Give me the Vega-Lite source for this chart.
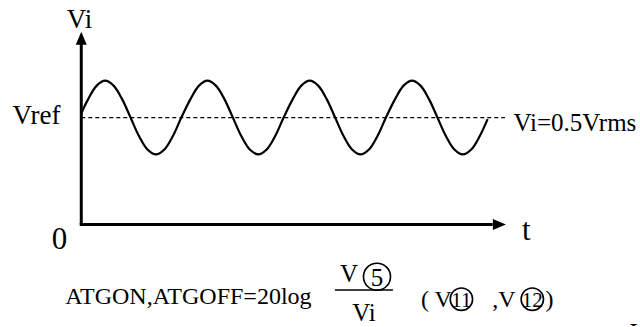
{
  "$schema": "https://vega.github.io/schema/vega-lite/v6.json",
  "width": 640,
  "height": 327,
  "padding": 0,
  "autosize": {"type": "fit", "contains": "padding"},
  "background": "white",
  "config": {"view": {"stroke": null}},
  "datasets": {
    "wave": [
      {"t": 0.0, "v": 1.04},
      {"t": 0.068, "v": 1.1725}, {"t": 0.152, "v": 1.2988}, {"t": 0.235, "v": 1.345}, {"t": 0.318, "v": 1.2988},
      {"t": 0.402, "v": 1.1725}, {"t": 0.485, "v": 1.0}, {"t": 0.568, "v": 0.8275}, {"t": 0.652, "v": 0.7012},
      {"t": 0.735, "v": 0.655}, {"t": 0.818, "v": 0.7012}, {"t": 0.902, "v": 0.8275}, {"t": 0.985, "v": 1.0},
      {"t": 1.075, "v": 1.1725}, {"t": 1.159, "v": 1.2988}, {"t": 1.242, "v": 1.345}, {"t": 1.325, "v": 1.2988},
      {"t": 1.409, "v": 1.1725}, {"t": 1.492, "v": 1.0}, {"t": 1.575, "v": 0.8275}, {"t": 1.659, "v": 0.7012},
      {"t": 1.742, "v": 0.655}, {"t": 1.825, "v": 0.7012}, {"t": 1.909, "v": 0.8275}, {"t": 1.992, "v": 1.0},
      {"t": 2.082, "v": 1.1725}, {"t": 2.166, "v": 1.2988}, {"t": 2.249, "v": 1.345}, {"t": 2.332, "v": 1.2988},
      {"t": 2.416, "v": 1.1725}, {"t": 2.499, "v": 1.0}, {"t": 2.582, "v": 0.8275}, {"t": 2.666, "v": 0.7012},
      {"t": 2.749, "v": 0.655}, {"t": 2.832, "v": 0.7012}, {"t": 2.916, "v": 0.8275}, {"t": 2.999, "v": 1.0},
      {"t": 3.089, "v": 1.1725}, {"t": 3.173, "v": 1.2988}, {"t": 3.256, "v": 1.345}, {"t": 3.339, "v": 1.2988},
      {"t": 3.423, "v": 1.1725}, {"t": 3.506, "v": 1.0}, {"t": 3.589, "v": 0.8275}, {"t": 3.673, "v": 0.7012},
      {"t": 3.756, "v": 0.655}, {"t": 3.839, "v": 0.7012}, {"t": 3.923, "v": 0.8275}, {"t": 4.0, "v": 0.985}
    ],
    "refline": [{"t": 0.0, "t2": 4.17, "v": 1.0}],
    "axes": [
      {"t": 0.0, "t2": 0.0, "v": 0.0, "v2": 1.70},
      {"t": -0.015, "t2": 4.05, "v": 0.0, "v2": 0.0}
    ],
    "arrows": [
      {"t": 0.0, "v": 1.743, "dir": "up"},
      {"t": 4.116, "v": 0.0, "dir": "right"}
    ],
    "fracbar": [{"t": 2.497, "t2": 3.068, "v": -0.613}],
    "rings": [
      {"t": 2.911, "v": -0.489, "ring": "big"},
      {"t": 3.742, "v": -0.699, "ring": "small"},
      {"t": 4.44, "v": -0.699, "ring": "small"}
    ],
    "texts": [
      {"label": "Vi", "t": -0.0175, "v": 1.839, "role": "vlabel"},
      {"label": "Vref", "t": -0.441, "v": 0.94, "role": "vlabel"},
      {"label": "0", "t": -0.214, "v": -0.232, "role": "origin"},
      {"label": "t", "t": 4.382, "v": -0.148, "role": "origin"},
      {"label": "Vi=0.5Vrms", "t": 4.859, "v": 0.873, "role": "note"},
      {"label": "ATGON,ATGOFF=20log", "t": 1.055, "v": -0.745, "role": "formula"},
      {"label": "V", "t": 2.635, "v": -0.54, "role": "frac"},
      {"label": "Vi", "t": 2.783, "v": -0.904, "role": "frac"},
      {"label": "5", "t": 2.911, "v": -0.58, "role": "frac"},
      {"label": "( V", "t": 3.496, "v": -0.773, "role": "formula"},
      {"label": ",V", "t": 4.16, "v": -0.773, "role": "formula"},
      {"label": ")", "t": 4.61, "v": -0.773, "role": "formula"},
      {"label": "11", "t": 3.742, "v": -0.77, "role": "circled"},
      {"label": "12", "t": 4.44, "v": -0.77, "role": "circled"}
    ],
    "cut": [{"label": "V", "t": 5.401, "v": -1.09}]
  },
  "encoding": {
    "x": {"field": "t", "type": "quantitative", "scale": {"domain": [-0.8, 5.5], "nice": false, "zero": false}, "axis": null},
    "y": {"field": "v", "type": "quantitative", "scale": {"domain": [-0.95, 2.1], "nice": false, "zero": false}, "axis": null}
  },
  "layer": [
    {
      "data": {"name": "refline"},
      "mark": {"type": "rule", "color": "black", "strokeWidth": 1.2, "strokeDash": [4, 3]},
      "encoding": {"x2": {"field": "t2"}}
    },
    {
      "data": {"name": "wave"},
      "mark": {"type": "line", "color": "black", "strokeWidth": 2.2, "interpolate": "catmull-rom"},
      "encoding": {}
    },
    {
      "data": {"name": "axes"},
      "mark": {"type": "rule", "color": "black", "strokeWidth": 3},
      "encoding": {"x2": {"field": "t2"}, "y2": {"field": "v2"}}
    },
    {
      "data": {"name": "arrows"},
      "mark": {"type": "point", "filled": true, "color": "black", "opacity": 1, "size": 169},
      "encoding": {
        "shape": {"field": "dir", "type": "nominal", "legend": null,
          "scale": {"domain": ["up", "right"], "range": ["M0,-1L0.85,1L-0.85,1Z", "M1,0L-1,-0.85L-1,0.85Z"]}}
      }
    },
    {
      "data": {"name": "fracbar"},
      "mark": {"type": "rule", "color": "black", "strokeWidth": 1.5},
      "encoding": {"x2": {"field": "t2"}}
    },
    {
      "data": {"name": "rings"},
      "mark": {"type": "point", "shape": "circle", "filled": false, "stroke": "black", "strokeWidth": 1.6, "opacity": 1},
      "encoding": {
        "size": {"field": "ring", "type": "nominal", "legend": null, "scale": {"domain": ["big", "small"], "range": [729, 500]}}
      }
    },
    {
      "data": {"name": "texts"},
      "transform": [{"filter": "datum.role === 'vlabel'"}],
      "mark": {"type": "text", "font": "Liberation Serif", "fontSize": 27, "align": "center", "baseline": "alphabetic", "color": "black"},
      "encoding": {"text": {"field": "label"}}
    },
    {
      "data": {"name": "texts"},
      "transform": [{"filter": "datum.role === 'origin'"}],
      "mark": {"type": "text", "font": "Liberation Serif", "fontSize": 31, "align": "center", "baseline": "alphabetic", "color": "black"},
      "encoding": {"text": {"field": "label"}}
    },
    {
      "data": {"name": "texts"},
      "transform": [{"filter": "datum.role === 'note'"}],
      "mark": {"type": "text", "font": "Liberation Serif", "fontSize": 25, "align": "center", "baseline": "alphabetic", "color": "black"},
      "encoding": {"text": {"field": "label"}}
    },
    {
      "data": {"name": "texts"},
      "transform": [{"filter": "datum.role === 'formula'"}],
      "mark": {"type": "text", "font": "Liberation Serif", "fontSize": 24, "align": "center", "baseline": "alphabetic", "color": "black"},
      "encoding": {"text": {"field": "label"}}
    },
    {
      "data": {"name": "texts"},
      "transform": [{"filter": "datum.role === 'frac'"}],
      "mark": {"type": "text", "font": "Liberation Serif", "fontSize": 25, "align": "center", "baseline": "alphabetic", "color": "black"},
      "encoding": {"text": {"field": "label"}}
    },
    {
      "data": {"name": "texts"},
      "transform": [{"filter": "datum.role === 'circled'"}],
      "mark": {"type": "text", "font": "Liberation Serif", "fontSize": 21, "align": "center", "baseline": "alphabetic", "color": "black"},
      "encoding": {"text": {"field": "label"}}
    },
    {
      "data": {"name": "cut"},
      "mark": {"type": "text", "font": "Liberation Serif", "fontSize": 25, "align": "left", "baseline": "alphabetic", "color": "black", "clip": true},
      "encoding": {"text": {"field": "label"}}
    }
  ]
}
